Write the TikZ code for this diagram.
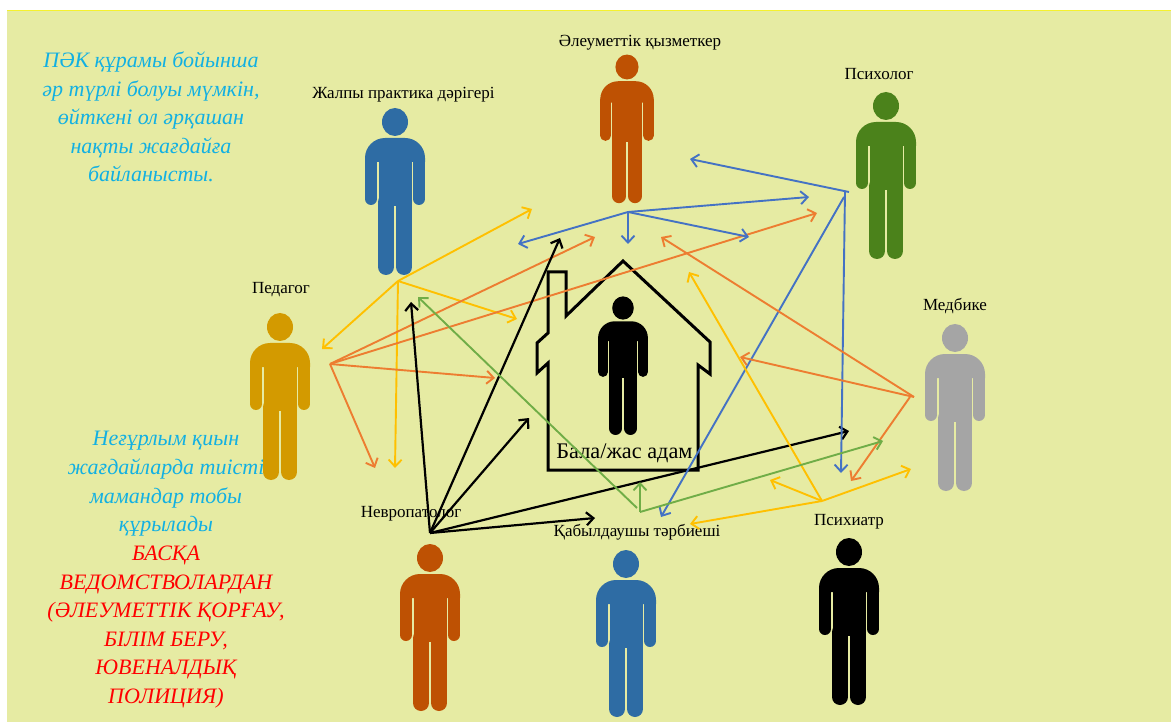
\documentclass[tikz,border=0pt]{standalone}
\usepackage{fontspec}
\setmainfont{Liberation Serif}
\usetikzlibrary{arrows.meta}

\definecolor{pagebg}{HTML}{E6EBA3}
\definecolor{pageedge}{HTML}{F5F12E}
\definecolor{infoblue}{HTML}{12B0E2}
\definecolor{linegold}{HTML}{FFC000}
\definecolor{lineorange}{HTML}{ED7D31}
\definecolor{lineblue}{HTML}{4472C4}
\definecolor{linegreen}{HTML}{70AD47}
\definecolor{manblue}{HTML}{2E6CA4}
\definecolor{manrust}{HTML}{BE5103}
\definecolor{mangreen}{HTML}{4B821B}
\definecolor{mangold}{HTML}{D39A00}
\definecolor{mangray}{HTML}{A5A5A5}

\tikzset{
    conn/.style={-{Straight Barb[length=7pt,width=13pt]},line width=1.9pt},
    connk/.style={conn,line width=2.2pt,black},
    rolelabel/.style={inner sep=0pt,font=\fontsize{17}{20}\selectfont},
    notelabel/.style={inner sep=0pt,align=center,font=\fontsize{22}{28.6}\selectfont\itshape},
    pics/person/.style 2 args={code={
        \begin{scope}[scale=#2]
            \fill [#1] (0,0) ellipse (13 and 14);
            \fill [#1] (-30,36) arc[start angle=180,end angle=270,radius=20]
                -- (10,16) arc[start angle=270,end angle=360,radius=20]
                -- (30,40) -- (-30,40) -- cycle;
            \fill [#1] (-16.5,38) rectangle (16.5,84);
            \draw [#1,line width=#2*12pt,line cap=round] (-24,37) -- (-24,77);
            \draw [#1,line width=#2*12pt,line cap=round] (24,37) -- (24,77);
            \draw [#1,line width=#2*16pt,line cap=round] (-9,80) -- (-9,145);
            \draw [#1,line width=#2*16pt,line cap=round] (9,80) -- (9,145);
        \end{scope}
    }},
}

\begin{document}
\begin{tikzpicture}[x=1pt,y=-1pt]
    \useasboundingbox (0,0) rectangle (1171,722);
    \fill [white] (0,0) rectangle (1171,722);
    \fill [pagebg] (7,10) rectangle (1171,722);
    \draw [pageedge,line width=1.5pt] (7,10.7) -- (1171,10.7);

    % side notes
    \node [notelabel,text=infoblue] (notetop) at (151,117) {ПӘК құрамы бойынша\\әр түрлі болуы мүмкін,\\өйткені ол әрқашан\\нақты жағдайға\\байланысты.};
    \node [notelabel,text=infoblue] (notemid) at (166,484) {Неғұрлым қиын\\жағдайларда тиісті\\мамандар тобы\\құрылады};
    \node [notelabel,text=red] (notelow) at (166,627) {БАСҚА\\ВЕДОМСТВОЛАРДАН\\(ӘЛЕУМЕТТІК ҚОРҒАУ,\\БІЛІМ БЕРУ,\\ЮВЕНАЛДЫҚ\\ПОЛИЦИЯ)};

    % people
    \foreach \name/\x/\y/\col/\s in {
        gp/395/122/manblue/1,
        social/627/67/manrust/.89,
        psycho/886/106/mangreen/1,
        pedagog/280/327/mangold/1,
        midwife/955/338/mangray/1,
        psychiat/849/552/black/1,
        carer/626/564/manblue/1,
        neuro/430/558/manrust/1,
        child/623/308/black/.83}{
            \pic (\name) at (\x,\y) {person={\col}{\s}};
        }

    % house
    \draw [line width=3pt,line join=miter] (623,261) -- (710,342) -- (710,374) -- (698,365)
        -- (698,470) -- (548,470) -- (548,363) -- (537,373) -- (537,343) -- (548,333)
        -- (548,272) -- (566,272) -- (566,316) -- cycle;
    \node [inner sep=0pt,font=\fontsize{22.3}{26}\selectfont] (childlabel) at (624.5,453) {Бала/жас адам};

    % labels
    \node [rolelabel] (sociallabel) at (640,43) {Әлеуметтік қызметкер};
    \node [rolelabel] (gplabel) at (403.5,95) {Жалпы практика дәрігері};
    \node [rolelabel] (psycholabel) at (879,74) {Психолог};
    \node [rolelabel] (pedagoglabel) at (281,290) {Педагог};
    \node [rolelabel] (midwifelabel) at (955,306) {Медбике};
    \node [rolelabel] (neurolabel) at (411,514) {Невропатолог};
    \node [rolelabel] (carerlabel) at (637,532) {Қабылдаушы тәрбиеші};
    \node [rolelabel] (psychiatlabel) at (849,522) {Психиатр};

    % connector ends
    \foreach \name/\x/\y in {
        goldhub/398/281, golda/532/209, goldb/322/349, goldc/517/319, goldd/395/468,
        orghub/330/364, orga/595/237, orgb/817/213, orgc/495/378, orgd/375/468,
        neurohub/430/533, neuroa/411/302, neurob/560/238, neuroc/529/418, neurod/595/518, neuroe/849/431,
        greenhub/640/512, greensub/637/508, greena/640/482, greenb/883/441, greenc/418/297,
        bluehub/628/212, bluea/518/244, blueb/628/244, bluec/809/197, blued/749/237,
        psyhub/849/192, psysub/844/197, psymid/845/192, psya/690/159, psyb/661/517, psyc/841/473,
        midhub/914/397, midsub/910/397, mida/661/237, midb/740/357, midc/851/481,
        psthub/822/501, psta/689/272, pstb/770/480, pstc/911/469, pstd/690/524}{
            \coordinate (\name) at (\x,\y);
        }

    \foreach \t in {golda,goldb,goldc,goldd}{
        \draw [conn,linegold] (goldhub) -- (\t);
    }
    \foreach \t in {orga,orgb,orgc,orgd}{
        \draw [conn,lineorange] (orghub) -- (\t);
    }
    \foreach \t in {bluea,blueb,bluec,blued}{
        \draw [conn,lineblue] (bluehub) -- (\t);
    }
    \foreach \t in {neuroa,neurob,neuroc,neurod,neuroe}{
        \draw [connk] (neurohub) -- (\t);
    }
    \draw [conn,lineblue] (psyhub) -- (psya);
    \draw [conn,lineblue] (psysub) -- (psyb);
    \draw [conn,lineblue] (psymid) -- (psyc);
    \draw [conn,lineorange] (midhub) -- (mida);
    \draw [conn,lineorange] (midhub) -- (midb);
    \draw [conn,lineorange] (midsub) -- (midc);
    \foreach \t in {psta,pstb,pstc,pstd}{
        \draw [conn,linegold] (psthub) -- (\t);
    }
    \draw [conn,linegreen] (greenhub) -- (greena);
    \draw [conn,linegreen] (greenhub) -- (greenb);
    \draw [conn,linegreen] (greensub) -- (greenc);
\end{tikzpicture}
\end{document}
